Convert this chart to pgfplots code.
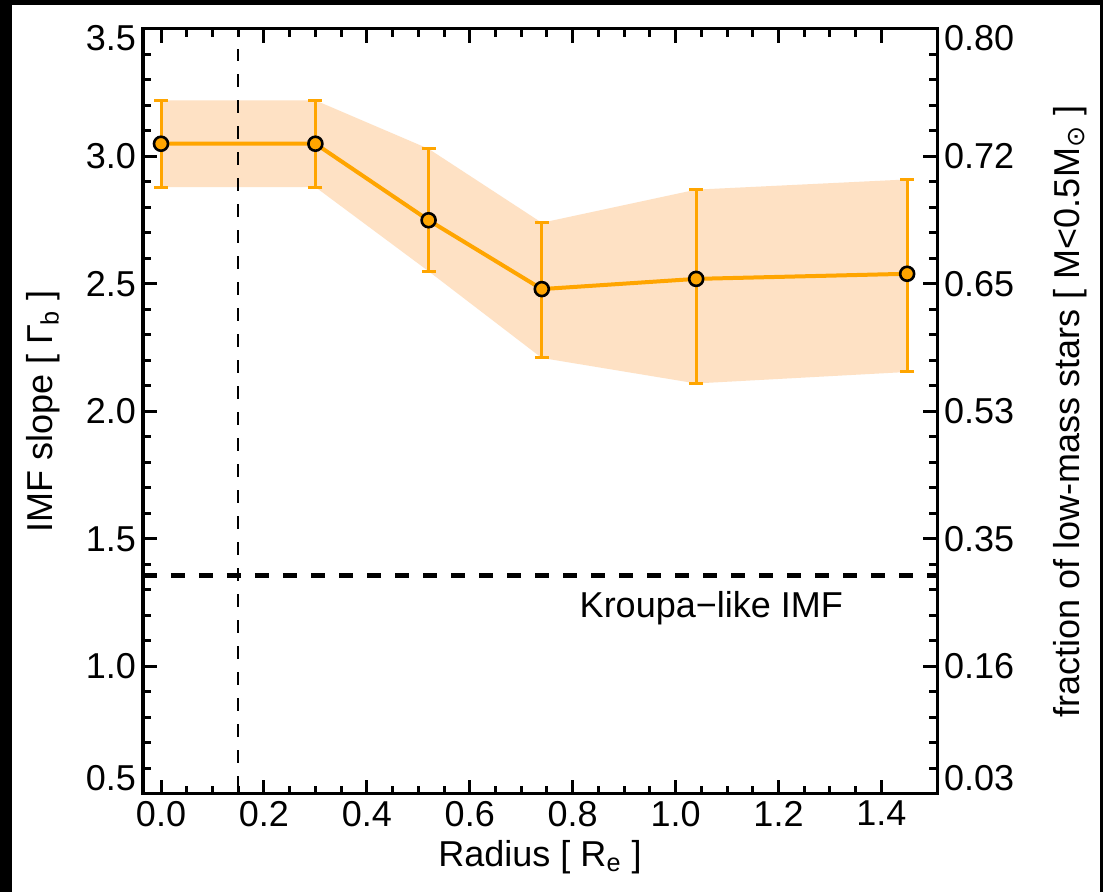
\documentclass[border=0pt]{standalone}
\usepackage{pgfplots}
\pgfplotsset{compat=1.18}
\usepackage{fontspec}
\setmainfont{Liberation Sans}
\newfontfamily\dejavu{DejaVu Sans}
\definecolor{peach}{RGB}{254,225,196}
\definecolor{myorange}{RGB}{255,165,0}

\pgfplotstableread{
x    y     ep    em
0.00 3.05  0.17  0.17
0.30 3.05  0.17  0.17
0.52 2.75  0.28  0.20
0.74 2.48  0.26  0.27
1.04 2.52  0.35  0.41
1.45 2.54  0.37  0.385
}\imfdata

\pgfplotsset{
  common/.style={
    scale only axis, width=397pt, height=382.5pt,
    xmin=-0.035, xmax=1.508, ymin=0.5, ymax=3.5,
    tick align=inside,
    major tick length=7pt, minor tick length=4pt,
    every tick/.style={black, line width=1.5pt},
    axis line style={line width=1.5pt},
    ytick={0.5,1,1.5,2,2.5,3,3.5}, minor y tick num=4,
    tick label style={font=\fontsize{18}{21}\selectfont},
    label style={font=\fontsize{18}{21}\selectfont},
    yticklabel style={yshift={ifthenelse(\ticknum==0,8,ifthenelse(\ticknum==6,-4.5,0))}},
  }
}

\begin{document}
\begin{tikzpicture}
\fill[black] (-71.5pt,-49pt) rectangle (480pt,397pt);
\fill[white] (-65.5pt,-49pt) rectangle (478.5pt,394.5pt);
\useasboundingbox (-71.5pt,-49pt) rectangle (480pt,397pt);

\begin{axis}[common,
  xtick={0,0.2,0.4,0.6,0.8,1.0,1.2,1.4}, minor x tick num=3,
  xticklabels={0.0,0.2,0.4,0.6,0.8,1.0,1.2,1.4},
  yticklabels={0.5,1.0,1.5,2.0,2.5,3.0,3.5},
  xtick pos=both, ytick pos=both, xticklabel pos=lower, yticklabel pos=left,
  xlabel={Radius [ R\textsubscript{e} ]},
  ylabel={IMF slope [ Γ\textsubscript{b} ]},
  ylabel style={at={(axis description cs:-0.126,0.5)}, rotate=0, anchor=center},
]
\addplot[fill=peach, draw=none] coordinates {
  (0,3.22) (0.30,3.22) (0.52,3.03) (0.74,2.74) (1.04,2.87) (1.45,2.91)
  (1.45,2.155) (1.04,2.11) (0.74,2.21) (0.52,2.55) (0.30,2.88) (0,2.88)
} -- cycle;
\addplot[black, line width=2.5pt, dash pattern=on 7pt off 7pt] coordinates {(-0.035,1.355) (1.508,1.355)};
\addplot[myorange, line width=2pt, mark=*, mark size=3.5pt,
  mark options={fill=myorange, draw=black, line width=1.3pt},
  error bars/.cd, y dir=both, y explicit,
  error bar style={line width=1.5pt, myorange},
  error mark options={rotate=90, mark size=3.5pt, line width=1.5pt, myorange}]
  table[x=x, y=y, y error plus=ep, y error minus=em] {\imfdata};
\addplot[black, line width=1pt, dash pattern=on 6.5pt off 6.5pt] coordinates {(0.15,0.52) (0.15,3.42)};
\node[anchor=west, font=\fontsize{18}{21}\selectfont] at (axis cs:0.80,1.23) {Kroupa−like IMF};
\end{axis}

\begin{axis}[common,
  hide x axis,
  ytick pos=right, yticklabel pos=right,
  yticklabels={0.03,0.16,0.35,0.53,0.65,0.72,0.80},
  ylabel={fraction of low-mass stars [ M<0.5M\textsubscript{\dejavu ⊙} ]},
  ylabel style={at={(axis description cs:1.1675,0.5)}, anchor=center},
]
\end{axis}
\end{tikzpicture}
\end{document}
